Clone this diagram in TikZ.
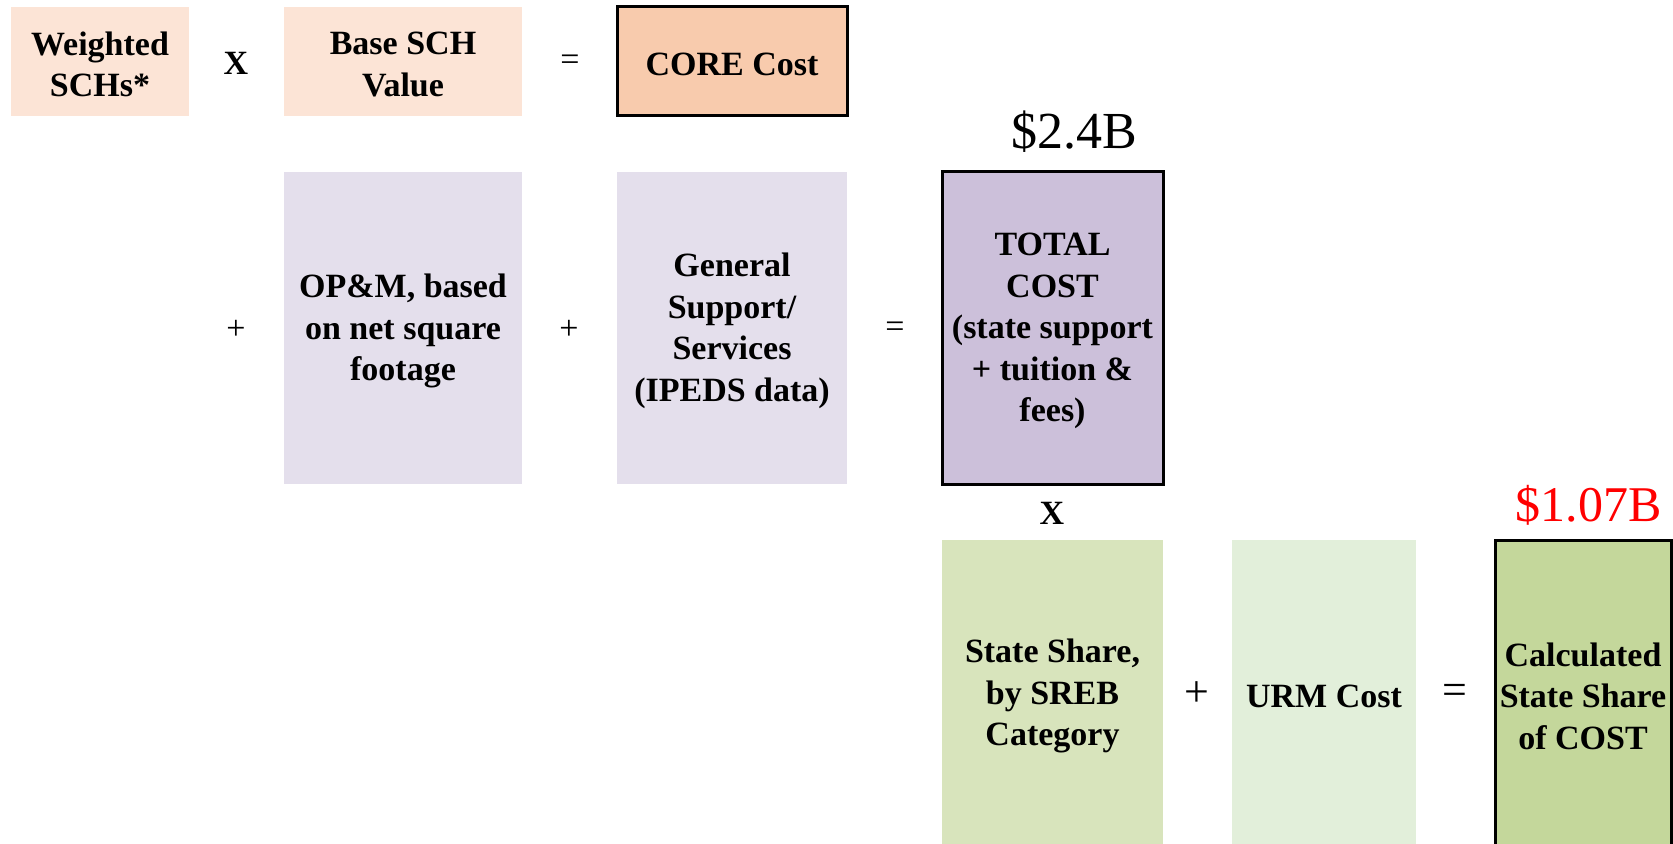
\documentclass[tikz,border=0pt]{standalone}
\usepackage{fontspec}
\setmainfont{Liberation Serif}
\definecolor{peachL}{HTML}{FCE4D6}
\definecolor{peachD}{HTML}{F8CBAD}
\definecolor{lavL}{HTML}{E4DFEC}
\definecolor{lavD}{HTML}{CCC0DA}
\definecolor{greenA}{HTML}{D8E4BC}
\definecolor{greenL}{HTML}{E2EFDA}
\definecolor{greenD}{HTML}{C4D79B}
\definecolor{redT}{HTML}{FF0000}
\tikzset{
  boxtext/.style={inner sep=0pt, align=center, yshift=-1.5pt,
    font=\bfseries\fontsize{17}{20.8}\selectfont},
  box/.style={rectangle, inner sep=0pt, draw=none},
  keybox/.style={box, draw=black, line width=1.5pt},
  op/.style={inner sep=0pt, font=\fontsize{17}{20}\selectfont},
  opbig/.style={inner sep=0pt, font=\fontsize{22}{24}\selectfont},
  opx/.style={inner sep=0pt, font=\bfseries\fontsize{17}{20}\selectfont},
  amount/.style={inner sep=0pt, font=\fontsize{25}{28}\selectfont},
}
\begin{document}
\begin{tikzpicture}[x=0.5pt, y=-0.5pt]
\useasboundingbox (0,0) rectangle (1673,844);
% row 1
\node[box, fill=peachL, minimum width=89pt, minimum height=54.5pt,
  label={[boxtext]center:Weighted\\SCHs*}] (w) at (100,61.5) {};
\node[opx] (x1) at (236,63) {X};
\node[box, fill=peachL, minimum width=119pt, minimum height=54.5pt,
  label={[boxtext]center:Base SCH\\Value}] (base) at (403,61.5) {};
\node[op] (e1) at (570,63) {=};
\node[keybox, fill=peachD, minimum width=115pt, minimum height=54.5pt,
  label={[boxtext]center:CORE Cost}] (core) at (732,61.5) {};
% amount
\node[amount, font=\fontsize{26}{28}\selectfont] (a1) at (1074,132) {\$2.4B};
% row 2
\node[op] (p1) at (236,330) {+};
\node[box, fill=lavL, minimum width=119pt, minimum height=156pt,
  label={[boxtext]center:OP\&M, based\\on net square\\footage}] (opm) at (403,328) {};
\node[op] (p2) at (569,330) {+};
\node[box, fill=lavL, minimum width=115pt, minimum height=156pt,
  label={[boxtext]center:General\\Support/\\Services\\(IPEDS data)}] (gen) at (732,328) {};
\node[op] (e2) at (895,330) {=};
\node[keybox, fill=lavD, minimum width=110.5pt, minimum height=156pt,
  label={[boxtext]center:TOTAL\\COST\\(state support\\+ tuition \&\\fees)}] (total) at (1052.5,328) {};
\node[opx] (x2) at (1052,513) {X};
% row 3
\node[box, fill=greenA, minimum width=110.5pt, minimum height=155pt,
  label={[boxtext, yshift=1pt]center:State Share,\\by SREB\\Category}] (state) at (1052.5,695) {};
\node[opbig] (p3) at (1197,694) {+};
\node[box, fill=greenL, minimum width=92pt, minimum height=155pt,
  label={[boxtext, yshift=1pt]center:URM Cost}] (urm) at (1324,695) {};
\node[opbig] (e3) at (1455,694) {=};
\node[keybox, fill=greenD, minimum width=88pt, minimum height=155pt,
  label={[boxtext, yshift=1pt]center:Calculated\\State Share\\of COST}] (calc) at (1583,695) {};
\node[amount, text=redT, anchor=east] (a2) at (1662,505) {\$1.07B};
\end{tikzpicture}
\end{document}
